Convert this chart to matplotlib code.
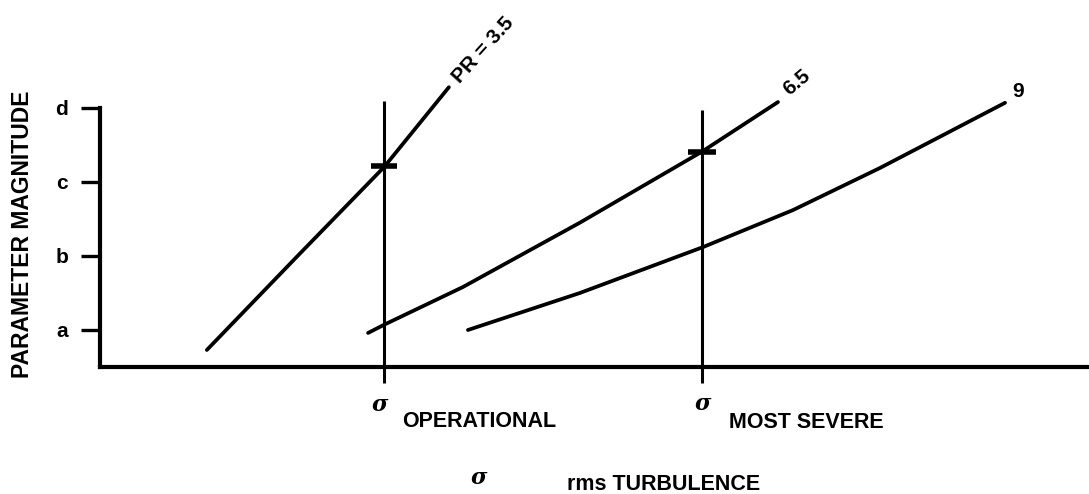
import matplotlib
matplotlib.use("Agg")
import matplotlib.pyplot as plt

# Parameter magnitude vs rms turbulence for three pressure ratios
# x: turbulence level (sigma_operational = 1, sigma_most_severe = 2)
# y: parameter magnitude on the a..d scale (a=1, b=2, c=3, d=4)
pr35_x = [0.443, 0.726, 1.000, 1.204]
pr35_y = [0.73, 1.99, 3.20, 4.28]

pr65_x = [0.950, 1.000, 1.248, 1.616, 2.000, 2.239]
pr65_y = [0.96, 1.07, 1.58, 2.45, 3.41, 4.08]

pr9_x = [1.264, 1.616, 2.003, 2.286, 2.560, 2.770, 2.953]
pr9_y = [1.00, 1.50, 2.12, 2.62, 3.19, 3.66, 4.07]

series_labels = ["PR = 3.5", "6.5", "9"]

ytick_values = [1, 2, 3, 4]
ytick_labels = ["a", "b", "c", "d"]

sigma_operational = 1.0
sigma_most_severe = 2.0
mark_operational = 3.216   # PR = 3.5 at sigma operational
mark_most_severe = 3.405   # PR = 6.5 at sigma most severe

FONT = "Liberation Sans"
INK = "black"

fig = plt.figure(figsize=(10.89, 4.94), dpi=100)
ax = fig.add_axes([0.0918, 0.2571, 0.9082, 0.7429])
ax.set_xlim(0.1069, 3.217)
ax.set_ylim(0.5, 5.459)

for s in ("top", "right"):
    ax.spines[s].set_visible(False)
ax.spines["left"].set_bounds(0.5, 4.0)
ax.spines["left"].set_linewidth(3.0)
ax.spines["bottom"].set_linewidth(3.0)

ax.set_xticks([])
ax.set_yticks(ytick_values)
ax.set_yticklabels(ytick_labels, fontfamily=FONT, fontweight="bold", fontsize=15)
ax.tick_params(axis="y", direction="out", length=14, width=2.4, pad=9, colors=INK)

# reference turbulence levels
ax.plot([sigma_operational, sigma_operational], [0.284, 4.09], color=INK, lw=2.2,
        clip_on=False, solid_capstyle="butt")
ax.plot([sigma_most_severe, sigma_most_severe], [0.284, 3.97], color=INK, lw=2.2,
        clip_on=False, solid_capstyle="butt")

# curves
for xs, ys in ((pr35_x, pr35_y), (pr65_x, pr65_y), (pr9_x, pr9_y)):
    ax.plot(xs, ys, color=INK, lw=2.7, solid_capstyle="round", solid_joinstyle="round",
            clip_on=False)

# crossing marks
ax.plot([sigma_operational], [mark_operational], marker="_", ms=19, mew=4, color=INK)
ax.plot([sigma_most_severe], [mark_most_severe], marker="_", ms=20, mew=4, color=INK)

# curve labels
ax.text(1.226, 4.378, series_labels[0], rotation=48, rotation_mode="anchor",
        ha="left", va="center", fontfamily=FONT, fontweight="bold", fontsize=15)
ax.text(2.264, 4.216, series_labels[1], rotation=40, rotation_mode="anchor",
        ha="left", va="center", fontfamily=FONT, fontweight="bold", fontsize=15)
ax.text(2.994, 4.216, series_labels[2], ha="center", va="center",
        fontfamily=FONT, fontweight="bold", fontsize=15)

# x-axis annotations (figure pixel positions -> figure fraction)
W, H = 1089.0, 494.0
def fx(px):
    return px / W
def fy(py):
    return 1.0 - py / H

sig_kw = dict(fontfamily="DejaVu Serif", fontstyle="italic", fontweight="bold",
              fontsize=16, ha="center", va="center")
lab_kw = dict(fontfamily=FONT, fontweight="bold", fontsize=15.5, ha="left", va="center")

fig.text(fx(380), fy(405), "σ", **sig_kw)
fig.text(fx(402), fy(421), "OPERATIONAL", **lab_kw)
fig.text(fx(703), fy(404), "σ", **sig_kw)
fig.text(fx(729), fy(422), "MOST SEVERE", **lab_kw)
fig.text(fx(479), fy(478), "σ", **sig_kw)
fig.text(fx(567), fy(484), "rms TURBULENCE", **lab_kw)

fig.text(fx(23), fy(234), "PARAMETER MAGNITUDE", rotation=90, ha="center", va="center",
         fontfamily=FONT, fontweight="bold", fontsize=16.5)

fig.savefig("out.png", dpi=100)
